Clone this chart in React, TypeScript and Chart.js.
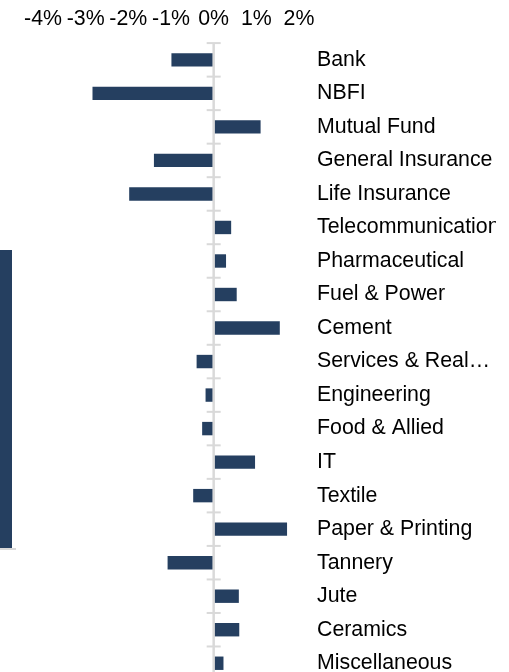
import React, { useEffect, useRef } from "react";
import { Chart, registerables } from "chart.js";

Chart.register(...registerables);

const categories = [
  "Bank",
  "NBFI",
  "Mutual Fund",
  "General Insurance",
  "Life Insurance",
  "Telecommunication",
  "Pharmaceutical",
  "Fuel & Power",
  "Cement",
  "Services & Real…",
  "Engineering",
  "Food & Allied",
  "IT",
  "Textile",
  "Paper & Printing",
  "Tannery",
  "Jute",
  "Ceramics",
  "Miscellaneous",
];

const changePct = [
  -0.99, -2.84, 1.1, -1.4, -1.98, 0.41, 0.29, 0.54, 1.55, -0.4, -0.19, -0.27,
  0.97, -0.48, 1.72, -1.08, 0.59, 0.6, 0.23,
];

const xTickMin = -4;
const xTickMax = 2;

const FONT = "'Liberation Sans', Arial, sans-serif";
const FONT_SIZE = 21.33;
const BAR_COLOR = "#253f60";
const AXIS_GRAY = "#d9d9d9";

const zeroAxisPlugin = {
  id: "zeroAxis",
  afterDatasetsDraw(chart: any) {
    const { ctx, chartArea, scales } = chart;
    const xs = scales.x;
    const ys = scales.y;
    const x0 = xs.getPixelForValue(0);
    ctx.save();
    ctx.strokeStyle = AXIS_GRAY;
    ctx.lineWidth = 2.5;
    ctx.beginPath();
    ctx.moveTo(x0, chartArea.top);
    ctx.lineTo(x0, chartArea.bottom);
    ctx.stroke();
    ctx.lineWidth = 2;
    for (let i = 0; i <= categories.length; i++) {
      const y = ys.getPixelForValue(i - 0.5);
      ctx.beginPath();
      ctx.moveTo(x0 - 7, y);
      ctx.lineTo(x0 + 7, y);
      ctx.stroke();
    }
    ctx.restore();
  },
};

export default function App() {
  const ref = useRef<HTMLCanvasElement | null>(null);

  useEffect(() => {
    if (!ref.current) return;
    const chart = new Chart(ref.current, {
      type: "bar",
      data: {
        labels: categories,
        datasets: [
          {
            data: changePct,
            backgroundColor: BAR_COLOR,
            borderWidth: 0,
            barPercentage: 0.4,
            categoryPercentage: 1,
          },
        ],
      },
      options: {
        indexAxis: "y",
        responsive: false,
        animation: false,
        layout: { padding: { left: 43, top: -4.5, right: 0, bottom: 0 } },
        plugins: {
          legend: { display: false },
          tooltip: { enabled: false },
        },
        scales: {
          x: {
            position: "top",
            min: xTickMin,
            max: xTickMax,
            grid: { display: false, drawTicks: false },
            border: { display: false },
            ticks: {
              stepSize: 1,
              padding: 11,
              autoSkip: false,
              maxRotation: 0,
              minRotation: 0,
              color: "#000",
              font: { family: FONT, size: FONT_SIZE },
              callback: (v: any) => `${v}%`,
            },
          },
          y: {
            position: "right",
            grid: { display: false, drawTicks: false },
            border: { display: false },
            ticks: {
              autoSkip: false,
              padding: 18,
              color: "#000",
              font: { family: FONT, size: FONT_SIZE },
            },
            afterFit: (scale: any) => {
              scale.width = 197;
              scale.paddingTop = 0;
              scale.paddingBottom = 0;
            },
          },
        },
      },
      plugins: [zeroAxisPlugin],
    });
    return () => chart.destroy();
  }, []);

  return (
    <div
      style={{
        position: "absolute",
        left: 0,
        top: 0,
        width: 509,
        height: 672,
        overflow: "hidden",
        background: "#fff",
      }}
    >
      <div
        style={{
          position: "absolute",
          left: 0,
          top: 250,
          width: 12,
          height: 298,
          background: BAR_COLOR,
        }}
      />
      <div
        style={{
          position: "absolute",
          left: 0,
          top: 548,
          width: 16,
          height: 2,
          background: AXIS_GRAY,
        }}
      />
      <canvas
        ref={ref}
        width={496}
        height={680}
        style={{ position: "absolute", left: 0, top: 0, width: 496, height: 680 }}
      />
    </div>
  );
}
